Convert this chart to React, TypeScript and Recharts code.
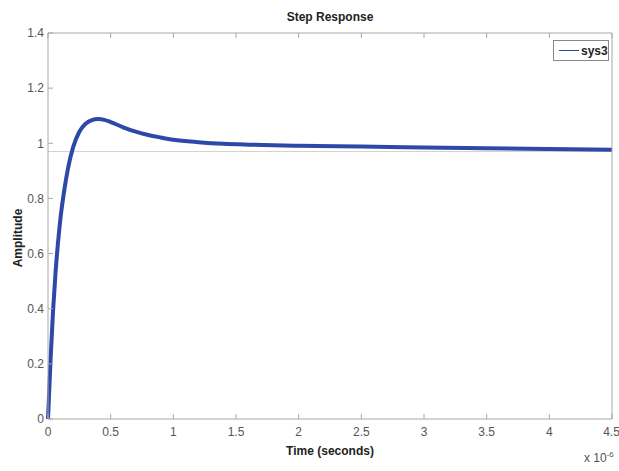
import { LineChart, Line, XAxis, YAxis, ReferenceLine } from 'recharts'

// step response of sys3, time in units of 1e-6 s
const TIME = [0, 0.02, 0.04, 0.06, 0.08, 0.1, 0.13, 0.16, 0.2, 0.25, 0.3, 0.35, 0.4, 0.45, 0.5, 0.6, 0.7, 0.8, 0.9, 1.0, 1.2, 1.4, 1.6, 1.8, 2.0, 2.5, 3.0, 3.5, 4.0, 4.5]
const AMPLITUDE = [0, 0.21, 0.39, 0.53, 0.64, 0.73, 0.83, 0.91, 0.985, 1.042, 1.071, 1.084, 1.088, 1.085, 1.077, 1.058, 1.042, 1.03, 1.021, 1.013, 1.004, 0.998, 0.995, 0.993, 0.991, 0.988, 0.985, 0.982, 0.979, 0.977]
const X_TICKS = [0, 0.5, 1, 1.5, 2, 2.5, 3, 3.5, 4, 4.5]
const Y_TICKS = [0, 0.2, 0.4, 0.6, 0.8, 1, 1.2, 1.4]
const FINAL_VALUE = 0.97
const SERIES_NAME = 'sys3'

const data = TIME.map((t, i) => ({ t, y: AMPLITUDE[i] }))

const FONT = '"Liberation Sans", Arial, sans-serif'
const FRAME = '#a8a8a8'
const LINE_COLOR = '#2d48a8'

const noTick = () => <g />

export default function App() {
  return (
    <div style={{ position: 'absolute', left: 0, top: 0, width: 619, height: 471, background: '#fff' }}>
      <LineChart width={619} height={471} data={data} margin={{ top: 32, right: 6, bottom: 0, left: 8 }}>
        <XAxis
          dataKey="t" type="number" domain={[0, 4.5]} ticks={X_TICKS} height={52}
          tickSize={-5} tickMargin={13} stroke={FRAME}
          tick={{ fill: '#555', fontSize: 12, fontFamily: FONT }}
          tickFormatter={(v: number) => String(v)}
        />
        <XAxis
          xAxisId="top" orientation="top" dataKey="t" type="number" domain={[0, 4.5]}
          ticks={X_TICKS} height={1} tickSize={-5} stroke={FRAME} tick={noTick}
        />
        <YAxis
          type="number" domain={[0, 1.4]} ticks={Y_TICKS} width={40}
          tickSize={-5} tickMargin={9} stroke={FRAME}
          tick={{ fill: '#555', fontSize: 12, fontFamily: FONT }}
          tickFormatter={(v: number) => String(v)}
        />
        <YAxis
          yAxisId="right" orientation="right" type="number" domain={[0, 1.4]}
          ticks={Y_TICKS} width={1} tickSize={-5} stroke={FRAME} tick={noTick}
        />
        <ReferenceLine y={FINAL_VALUE} stroke="#d0d0d0" strokeWidth={1} />
        <Line
          type="monotone" dataKey="y" name={SERIES_NAME} stroke={LINE_COLOR}
          strokeWidth={4} dot={false} isAnimationActive={false}
        />
      </LineChart>
      <div style={{
        position: 'absolute', left: 553, top: 40, border: '1px solid #888', background: '#fff', width: 56, height: 21,
        display: 'flex', alignItems: 'center', fontFamily: FONT, fontWeight: 'bold',
        fontSize: 12, color: '#222', boxSizing: 'border-box'
      }}>
        <span style={{ display: 'inline-block', width: 20, height: 1, background: LINE_COLOR, marginLeft: 5, marginRight: 2 }} />
        {SERIES_NAME}
      </div>
      <div style={{ position: 'absolute', top: 10, left: 0, width: 660, textAlign: 'center', fontFamily: FONT, fontWeight: 'bold', fontSize: 12, color: '#222' }}>
        Step Response
      </div>
      <div style={{ position: 'absolute', top: 444, left: 48, width: 564, textAlign: 'center', fontFamily: FONT, fontWeight: 'bold', fontSize: 12, color: '#222' }}>
        Time (seconds)
      </div>
      <div style={{ position: 'absolute', left: 18, top: 238, transform: 'translate(-50%, -50%) rotate(-90deg)', fontFamily: FONT, fontWeight: 'bold', fontSize: 12, color: '#222', whiteSpace: 'nowrap' }}>
        Amplitude
      </div>
      <div style={{ position: 'absolute', left: 584, top: 450, fontFamily: FONT, fontSize: 12, color: '#555', whiteSpace: 'nowrap' }}>
        x 10<sup style={{ fontSize: 8 }}>-6</sup>
      </div>
    </div>
  )
}
